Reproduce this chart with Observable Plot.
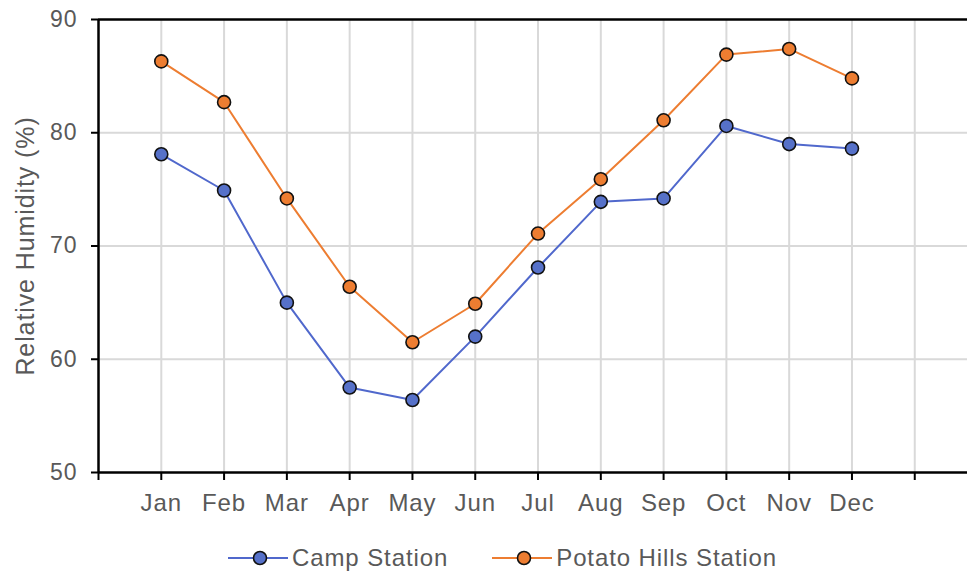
<!DOCTYPE html>
<html>
<head>
<meta charset="utf-8">
<script src="https://cdn.jsdelivr.net/npm/d3@7"></script>
<script src="https://cdn.jsdelivr.net/npm/@observablehq/plot@0.6"></script>
<style>
  html, body { margin: 0; padding: 0; background: #fff; }
  #chart { width: 967px; }
  #chart svg text { letter-spacing: 0.9px; }
  .legend {
    display: flex; justify-content: center; align-items: center;
    height: 40px; margin-top: 8px; padding-left: 38px;
    font-family: "Liberation Sans", Arial, sans-serif; font-size: 24px; letter-spacing: 0.9px; color: #595959;
  }
  .legend .item { display: flex; align-items: center; margin: 0 22px; }
  .legend svg { margin-right: 4px; }
</style>
</head>
<body>
<div id="chart"></div>
<script>
// Monthly mean relative humidity at two stations
const months = ["Jan", "Feb", "Mar", "Apr", "May", "Jun", "Jul", "Aug", "Sep", "Oct", "Nov", "Dec"];
const campStation = [78.1, 74.9, 65.0, 57.5, 56.4, 62.0, 68.1, 73.9, 74.2, 80.6, 79.0, 78.6];
const potatoHillsStation = [86.3, 82.7, 74.2, 66.4, 61.5, 64.9, 71.1, 75.9, 81.1, 86.9, 87.4, 84.8];
const yTicks = [50, 60, 70, 80, 90];

const seriesNames = ["Camp Station", "Potato Hills Station"];
const lineColors = ["#5068cc", "#ed7d31"];
const fillColors = ["#5671c9", "#ed7d31"];

const rows = [];
[campStation, potatoHillsStation].forEach((vals, s) => {
  vals.forEach((v, i) => rows.push({series: seriesNames[s], month: i, value: v}));
});

const xTicks = d3.range(-1, 13);
const font = "Liberation Sans, Arial, sans-serif";

const plot = Plot.plot({
  width: 967,
  height: 530,
  marginTop: 19,
  marginBottom: 58,
  marginLeft: 98,
  marginRight: 0,
  style: {fontFamily: font, background: "white"},
  x: {type: "linear", domain: [-1, 12.84]},
  y: {domain: [50, 90]},
  color: {domain: seriesNames, range: lineColors},
  marks: [
    // gridlines
    Plot.ruleX(d3.range(0, 13), {stroke: "#d9d9d9", strokeWidth: 2}),
    Plot.ruleY([60, 70, 80], {stroke: "#d9d9d9", strokeWidth: 2}),
    // axes
    Plot.axisY({ticks: yTicks, tickSize: 7, tickPadding: 14, fontSize: 23, color: "#595959",
      stroke: "black", strokeWidth: 2, label: null}),
    Plot.axisX({ticks: xTicks, tickSize: 8, tickPadding: 13, fontSize: 24, color: "#595959",
      stroke: "black", strokeWidth: 2, label: null,
      tickFormat: d => months[d] ?? ""}),
    Plot.ruleY([50], {stroke: "black", strokeWidth: 2.5}),
    Plot.ruleY([90], {stroke: "black", strokeWidth: 2.5}),
    Plot.ruleX([-1], {stroke: "black", strokeWidth: 2.5}),
    // series
    Plot.line(rows, {x: "month", y: "value", z: "series", stroke: "series", strokeWidth: 2}),
    Plot.dot(rows, {x: "month", y: "value", r: 6.5, fill: d => fillColors[seriesNames.indexOf(d.series)],
      stroke: "#111", strokeWidth: 1.6}),
    // y-axis title
    Plot.text(["Relative Humidity (%)"], {frameAnchor: "left", textAnchor: "middle", rotate: -90, dx: -73,
      fontSize: 25, fill: "#595959"})
  ]
});
document.getElementById("chart").appendChild(plot);

// legend
const legend = document.createElement("div");
legend.className = "legend";
seriesNames.forEach((name, i) => {
  const item = document.createElement("div");
  item.className = "item";
  item.innerHTML = `<svg width="60" height="18"><line x1="0" y1="9" x2="60" y2="9" stroke="${lineColors[i]}" stroke-width="2"/>` +
    `<circle cx="32" cy="9" r="6.5" fill="${fillColors[i]}" stroke="#111" stroke-width="1.6"/></svg><span>${name}</span>`;
  legend.appendChild(item);
});
document.getElementById("chart").appendChild(legend);
</script>
</body>
</html>
